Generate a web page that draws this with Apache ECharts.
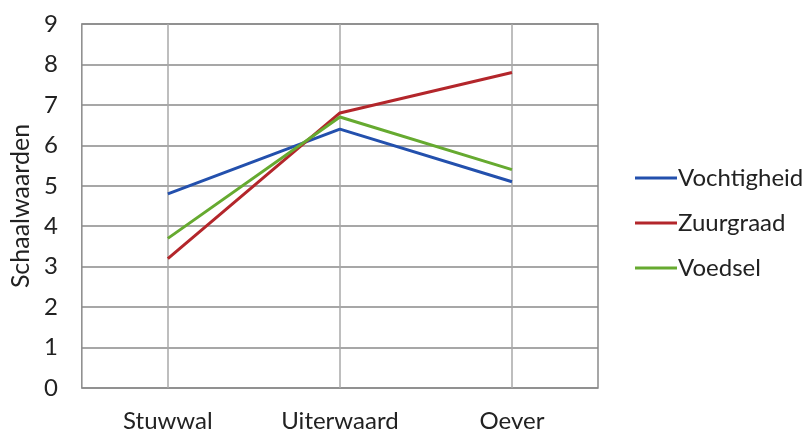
<!DOCTYPE html>
<html><head><meta charset="utf-8">
<script src="https://cdn.jsdelivr.net/npm/echarts@6/dist/echarts.min.js"></script>
<style>html,body{margin:0;padding:0;background:#fff}#c{width:808px;height:434px}</style>
</head><body><div id="c"></div>
<script>
const categories = ['Stuwwal', 'Uiterwaard', 'Oever'];
const vochtigheid = [4.8, 6.4, 5.1];
const zuurgraad = [3.2, 6.8, 7.8];
const voedsel = [3.7, 6.7, 5.4];
const seriesNames = ['Vochtigheid', 'Zuurgraad', 'Voedsel'];
const colors = ['#2350ad', '#b3262b', '#66aa30'];
const font = 'Lato';

const chart = echarts.init(document.getElementById('c'));
const mk = (name, data, color) => ({
  name, type: 'line', data, symbol: 'none', color,
  lineStyle: { width: 3, color }, z: 3
});
chart.setOption({
  animation: false,
  textStyle: { fontFamily: font },
  grid: { left: 80, right: 210, top: 24, bottom: 46, show: true, borderColor: '#8a8a8a', borderWidth: 1.5 },
  legend: {
    orient: 'vertical', left: 630, top: 161, itemGap: 21,
    itemWidth: 42, itemHeight: 3, icon: 'rect',
    textStyle: { fontSize: 24, color: '#222', fontFamily: font, padding: [0, 0, 0, -4] },
    data: seriesNames
  },
  xAxis: {
    type: 'category', data: categories, boundaryGap: true,
    axisLine: { show: false }, axisTick: { show: false },
    axisLabel: { fontSize: 24, color: '#222', margin: 21 },
    splitLine: { show: true, alignWithLabel: true, lineStyle: { color: '#a8a8a8', width: 1.5 } }
  },
  yAxis: {
    type: 'value', min: 0, max: 9, interval: 1,
    name: 'Schaalwaarden', nameLocation: 'middle', nameGap: 48, nameRotate: 90,
    nameTextStyle: { fontSize: 25, color: '#222' },
    axisLine: { show: false }, axisTick: { show: false },
    axisLabel: { fontSize: 24, color: '#222', margin: 24 },
    splitLine: { lineStyle: { color: '#8a8a8a', width: 1.5 } }
  },
  series: [
    mk(seriesNames[0], vochtigheid, colors[0]),
    mk(seriesNames[1], zuurgraad, colors[1]),
    mk(seriesNames[2], voedsel, colors[2])
  ]
});
</script></body></html>
